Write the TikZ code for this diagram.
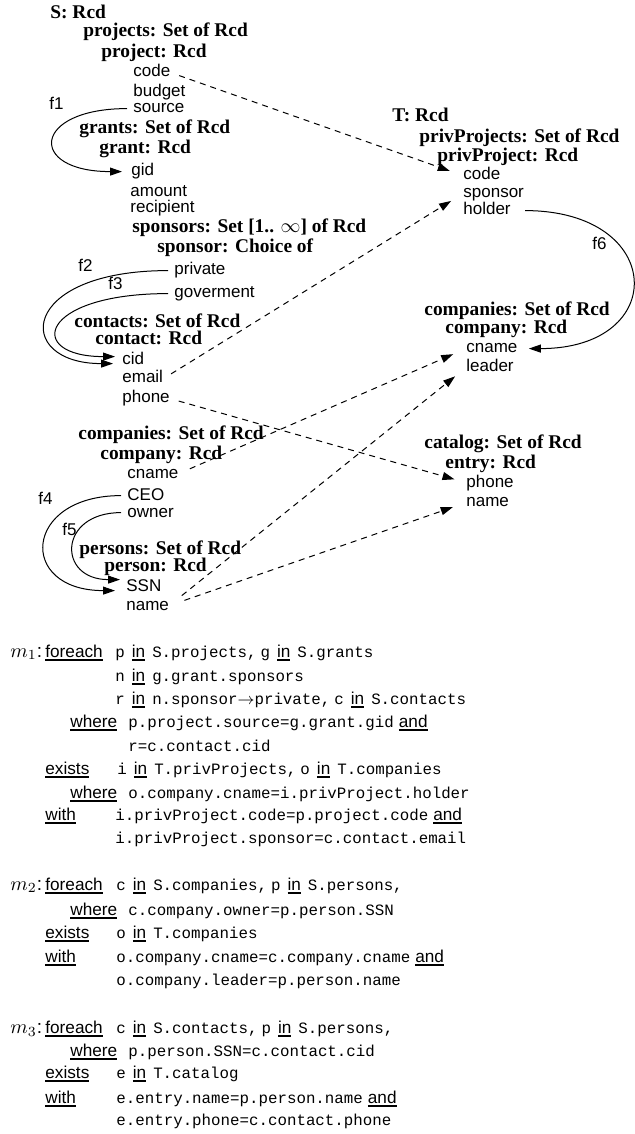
\documentclass[tikz,border=0pt]{standalone}
\usepackage{fontspec}
\setmainfont{Liberation Serif}
\setsansfont{Liberation Sans}
\setmonofont{Liberation Mono}
\usetikzlibrary{arrows.meta}
\newcommand{\kwfont}{\sffamily\fontsize{8.6bp}{10bp}\selectfont}
\newcommand{\kw}[1]{{\kwfont\setbox0\hbox{#1}\rlap{\rule[-2.2bp]{\wd0}{1bp}}\box0}}
\newcommand{\inkw}{\hspace{3.5bp}\kw{in}\hspace{3.5bp}}
\newcommand{\andkw}{\hspace{2.5bp}\kw{and}}

\begin{document}
\begin{tikzpicture}[x=0.5bp, y=-0.5bp,
    hdr/.style={font=\bfseries\fontsize{9.7bp}{11bp}\selectfont, anchor=base west, inner sep=0pt},
    fld/.style={font=\sffamily\fontsize{8.5bp}{10bp}\selectfont, anchor=base west,
                inner sep=0pt, text height=4.4bp, text depth=0pt},
    lbl/.style={font=\sffamily\fontsize{8.5bp}{10bp}\selectfont, anchor=base west, inner sep=0pt},
    code/.style={font=\ttfamily\fontsize{7.9bp}{10bp}\selectfont, anchor=base west, inner sep=0pt},
    kwd/.style={font=\kwfont, anchor=base west, inner sep=0pt},
    mlbl/.style={font=\fontsize{9.5bp}{11bp}\selectfont, anchor=base west, inner sep=0pt},
    fline/.style={line width=0.5bp, -{Triangle[length=6bp,width=4bp]}},
    dline/.style={line width=0.5bp, dash pattern=on 3bp off 2.5bp, -{Triangle[length=6bp,width=4bp]}}]
  \useasboundingbox (0,0) rectangle (634,1134);

  % source schema S
  \node[hdr] (sRoot)      at (50,19)   {S: Rcd};
  \node[hdr] (sProjects)  at (83,37)   {projects: Set of Rcd};
  \node[hdr] (sProject)   at (101,58)  {project: Rcd};
  \node[fld] (sCode)      at (133,77)  {code};
  \node[fld] (sBudget)    at (133,97)  {budget};
  \node[fld] (sSource)    at (133,113) {source};
  \node[hdr] (sGrants)    at (79,134)  {grants: Set of Rcd};
  \node[hdr] (sGrant)     at (99,154)  {grant: Rcd};
  \node[fld] (sGid)       at (131,176) {gid};
  \node[fld] (sAmount)    at (130,197) {amount};
  \node[fld] (sRecipient) at (130,213) {recipient};
  \node[hdr] (sSponsors)  at (132,233) {sponsors: Set [1.. $\infty$] of Rcd};
  \node[hdr] (sSponsor)   at (157,253) {sponsor: Choice of};
  \node[fld] (sPrivate)   at (174,275) {private};
  \node[fld] (sGoverment) at (174,298) {goverment};
  \node[hdr] (sContacts)  at (74,328)  {contacts: Set of Rcd};
  \node[hdr] (sContact)   at (95,345)  {contact: Rcd};
  \node[fld] (sCid)       at (122,365) {cid};
  \node[fld] (sEmail)     at (122,383) {email};
  \node[fld] (sPhone)     at (122,403) {phone};
  \node[hdr] (sCompanies) at (78,440)  {companies: Set of Rcd};
  \node[hdr] (sCompany)   at (100,459) {company: Rcd};
  \node[fld] (sCname)     at (127,478) {cname};
  \node[fld] (sCEO)       at (127,500) {CEO};
  \node[fld] (sOwner)     at (127,517) {owner};
  \node[hdr] (sPersons)   at (79,554)  {persons: Set of Rcd};
  \node[hdr] (sPerson)    at (104,571) {person: Rcd};
  \node[fld] (sSSN)       at (126,591) {SSN};
  \node[fld] (sName)      at (126,610) {name};

  % target schema T
  \node[hdr] (tRoot)         at (392,122) {T: Rcd};
  \node[hdr] (tPrivProjects) at (419,143) {privProjects: Set of Rcd};
  \node[hdr] (tPrivProject)  at (437,162) {privProject: Rcd};
  \node[fld] (tCode)         at (463,180) {code};
  \node[fld] (tSponsor)      at (463,198) {sponsor};
  \node[fld] (tHolder)       at (463,215) {holder};
  \node[hdr] (tCompanies)    at (424,316) {companies: Set of Rcd};
  \node[hdr] (tCompany)      at (445,334) {company: Rcd};
  \node[fld] (tCname)        at (466,353) {cname};
  \node[fld] (tLeader)       at (466,372) {leader};
  \node[hdr] (tCatalog)      at (424,449) {catalog: Set of Rcd};
  \node[hdr] (tEntry)        at (445,468) {entry: Rcd};
  \node[fld] (tPhone)        at (466,487) {phone};
  \node[fld] (tName)         at (466,507) {name};

  % foreign keys
  \node[lbl] (lf1) at (49,110)  {f1};
  \node[lbl] (lf2) at (78,272)  {f2};
  \node[lbl] (lf3) at (108,290) {f3};
  \node[lbl] (lf4) at (38,505)  {f4};
  \node[lbl] (lf5) at (62,535)  {f5};
  \node[lbl] (lf6) at (592,250) {f6};
  \draw[fline] ([xshift=-3bp]sSource.west) .. controls +(-95,0) and +(-95,0) .. ([xshift=-4.5bp]sGid.west);
  \draw[fline] ([xshift=-3bp]sPrivate.west) .. controls +(-150,0) and +(-100,0) .. ([xshift=-4.5bp,yshift=-1.5bp]sCid.west);
  \draw[fline] ([xshift=-3bp]sGoverment.west) .. controls +(-130,0) and +(-90,0) .. ([xshift=-3.5bp,yshift=2bp]sCid.west);
  \draw[fline] ([xshift=-3bp]sCEO.west) .. controls +(-98,0) and +(-98,0) .. ([xshift=-5.5bp,yshift=-2bp]sSSN.west);
  \draw[fline] ([xshift=-3bp]sOwner.west) .. controls +(-63,0) and +(-63,0) .. ([xshift=-3bp,yshift=3.5bp]sSSN.west);
  \draw[fline] ([xshift=7bp]tHolder.east) .. controls +(141,0) and +(141,0) .. ([xshift=5.5bp]tCname.east);

  % correspondences
  \draw[dline, shorten <=4.5bp, shorten >=7bp] (sCode.east) -- (tCode.west);
  \draw[dline, shorten <=4.5bp, shorten >=7bp] (sEmail.east) -- (tSponsor.west);
  \draw[dline, shorten <=6bp, shorten >=7bp] (sCname.east) -- (tCname.west);
  \draw[dline, shorten <=4.5bp, shorten >=6bp] (sPhone.east) -- (tPhone.west);
  \draw[dline, shorten <=8bp, shorten >=7bp] (sName.east) -- (tLeader.west);
  \draw[dline, shorten <=8bp, shorten >=7bp] (sName.east) -- (tName.west);

  % mapping m1
  \node[mlbl] (m1)       at (10,657)  {$m_1${\sffamily:}};
  \node[kwd]  (m1for)    at (45,657)  {\kw{foreach}};
  \node[code] (m1a)      at (115,657) {p\inkw S.projects,\hspace{2bp}g\inkw S.grants};
  \node[code] (m1b)      at (115,681) {n\inkw g.grant.sponsors};
  \node[code] (m1c)      at (115,704) {r\inkw n.sponsor$\rightarrow$private,\hspace{2bp}c\inkw S.contacts};
  \node[kwd]  (m1where)  at (70,727)  {\kw{where}};
  \node[code] (m1d)      at (128,727) {p.project.source=g.grant.gid\andkw};
  \node[code] (m1e)      at (128,751) {r=c.contact.cid};
  \node[kwd]  (m1ex)     at (45,774)  {\kw{exists}};
  \node[code] (m1f)      at (117,774) {i\inkw T.privProjects,\hspace{2bp}o\inkw T.companies};
  \node[kwd]  (m1where2) at (70,798)  {\kw{where}};
  \node[code] (m1g)      at (128,798) {o.company.cname=i.privProject.holder};
  \node[kwd]  (m1with)   at (45,820)  {\kw{with}};
  \node[code] (m1h)      at (115,820) {i.privProject.code=p.project.code\andkw};
  \node[code] (m1i)      at (115,843) {i.privProject.sponsor=c.contact.email};

  % mapping m2
  \node[mlbl] (m2)      at (10,890)  {$m_2${\sffamily:}};
  \node[kwd]  (m2for)   at (45,890)  {\kw{foreach}};
  \node[code] (m2a)     at (116,890) {c\inkw S.companies,\hspace{2bp}p\inkw S.persons,};
  \node[kwd]  (m2where) at (70,915)  {\kw{where}};
  \node[code] (m2b)     at (128,915) {c.company.owner=p.person.SSN};
  \node[kwd]  (m2ex)    at (45,938)  {\kw{exists}};
  \node[code] (m2c)     at (116,938) {o\inkw T.companies};
  \node[kwd]  (m2with)  at (45,962)  {\kw{with}};
  \node[code] (m2d)     at (116,962) {o.company.cname=c.company.cname\andkw};
  \node[code] (m2e)     at (116,985) {o.company.leader=p.person.name};

  % mapping m3
  \node[mlbl] (m3)      at (10,1033)  {$m_3${\sffamily:}};
  \node[kwd]  (m3for)   at (45,1033)  {\kw{foreach}};
  \node[code] (m3a)     at (116,1033) {c\inkw S.contacts,\hspace{2bp}p\inkw S.persons,};
  \node[kwd]  (m3where) at (70,1056)  {\kw{where}};
  \node[code] (m3b)     at (128,1056) {p.person.SSN=c.contact.cid};
  \node[kwd]  (m3ex)    at (45,1078)  {\kw{exists}};
  \node[code] (m3c)     at (116,1078) {e\inkw T.catalog};
  \node[kwd]  (m3with)  at (45,1103)  {\kw{with}};
  \node[code] (m3d)     at (116,1103) {e.entry.name=p.person.name\andkw};
  \node[code] (m3e)     at (116,1125) {e.entry.phone=c.contact.phone};
\end{tikzpicture}
\end{document}
